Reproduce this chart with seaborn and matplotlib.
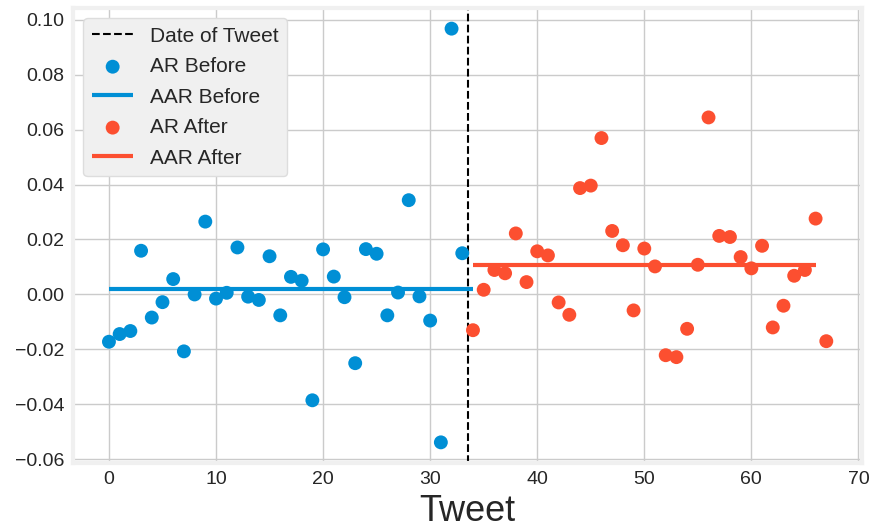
import matplotlib
matplotlib.use('Agg')
import numpy as np
import pandas as pd
import matplotlib.pyplot as plt
import seaborn as sns

# Данные: AR до и после твита
tweet_before = list(range(0, 34))
ar_before = [-0.0172, -0.0144, -0.0133, 0.0159, -0.0084, -0.0028, 0.0056, -0.0207,
             0.0, 0.0265, -0.0015, 0.0006, 0.0171, -0.0008, -0.002, 0.0139,
             -0.0076, 0.0064, 0.005, -0.0385, 0.0164, 0.0065, -0.001, -0.025,
             0.0165, 0.0148, -0.0076, 0.0007, 0.0343, -0.0007, -0.0095, -0.0538,
             0.0967, 0.015]

tweet_after = list(range(34, 68))
ar_after = [-0.013, 0.0017, 0.0089, 0.0077, 0.0222, 0.0045, 0.0157, 0.0142,
            -0.0029, -0.0074, 0.0387, 0.0396, 0.0569, 0.0231, 0.0179, -0.0058,
            0.0167, 0.0102, -0.0221, -0.0228, -0.0125, 0.0108, 0.0644, 0.0213,
            0.0209, 0.0136, 0.0095, 0.0177, -0.012, -0.0041, 0.0068, 0.0089,
            0.0276, -0.017]

tweet_date = 33.5
aar_before_span = [0, 34]
aar_after_span = [34, 66]

before = pd.DataFrame({'Tweet': tweet_before, 'AR': ar_before})
after = pd.DataFrame({'Tweet': tweet_after, 'AR': ar_after})
aar_before = before['AR'].mean()
aar_after = after['AR'].mean()

blue = '#008fd5'
red = '#fc4f30'

sns.set_style('whitegrid', {'grid.color': '#cbcbcb', 'axes.edgecolor': '#f0f0f0'})
plt.rcParams['font.family'] = ['Liberation Sans', 'DejaVu Sans']
plt.rcParams['font.size'] = 14
plt.rcParams['lines.solid_capstyle'] = 'butt'

fig, ax = plt.subplots(figsize=(8.7, 5.31), dpi=100)
fig.subplots_adjust(left=0.084, right=0.991, top=0.985, bottom=0.128)

ax.axvline(tweet_date, color='black', linestyle='--', linewidth=1.5, label='Date of Tweet')
sns.scatterplot(data=before, x='Tweet', y='AR', color=blue, s=100, edgecolor='none',
                label='AR Before', ax=ax, zorder=3)
ax.plot(aar_before_span, [aar_before, aar_before], color=blue, linewidth=3, label='AAR Before')
sns.scatterplot(data=after, x='Tweet', y='AR', color=red, s=100, edgecolor='none',
                label='AR After', ax=ax, zorder=3)
ax.plot(aar_after_span, [aar_after, aar_after], color=red, linewidth=3, label='AAR After')

# Настройка осей
ax.set_xlabel('Tweet', fontsize=26, color='.15', labelpad=4)
ax.set_ylabel('')
ax.set_xticks(range(0, 71, 10))
ax.set_yticks(np.arange(-0.06, 0.101, 0.02))
ax.set_yticklabels([f'{v:.2f}'.replace('-', '\u2212') for v in np.arange(-0.06, 0.101, 0.02)])
ax.tick_params(axis='both', labelsize=14, colors='.15', length=0, pad=6)
ax.grid(True, color='#cbcbcb', linewidth=1.0)
for spine in ax.spines.values():
    spine.set_linewidth(3)
    spine.set_color('#f0f0f0')

# Легенда
handles, labels = ax.get_legend_handles_labels()
order = ['Date of Tweet', 'AR Before', 'AAR Before', 'AR After', 'AAR After']
hmap = dict(zip(labels, handles))
leg = ax.legend([hmap[k] for k in order], order, loc='upper left', fontsize=15,
                frameon=True, fancybox=True, facecolor='#f0f0f0', edgecolor='#dddddd',
                framealpha=1.0, borderaxespad=0.5, handlelength=2.0, labelspacing=0.55)

plt.savefig('out.png', dpi=100)
